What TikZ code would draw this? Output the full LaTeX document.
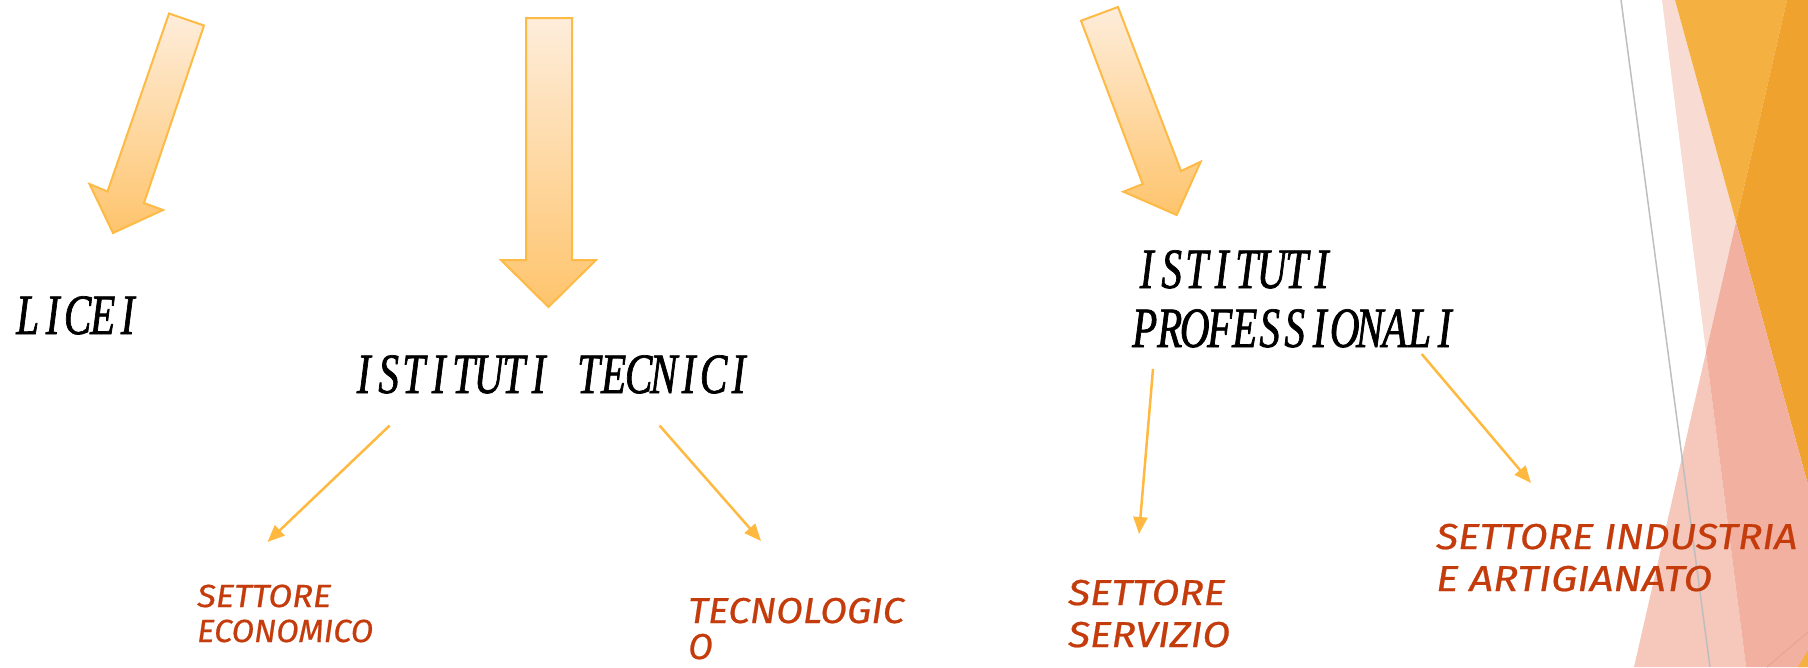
\documentclass[tikz,border=0pt]{standalone}
\usepackage{fontspec}
\usepackage{graphicx}
\usetikzlibrary{arrows.meta}
\newfontfamily\blackfont[FakeStretch=0.72,FakeBold=1.2]{Liberation Serif}
\newfontfamily\redfont[FakeBold=0.6]{Fira Sans}
\definecolor{arrline}{HTML}{FDBA45}
\definecolor{arrtop}{HTML}{FEEDDB}
\definecolor{arrbot}{HTML}{FEC46C}
\definecolor{thinarr}{HTML}{FFB940}
\definecolor{redtext}{HTML}{C43B0C}
\definecolor{palepink}{HTML}{F8DCD3}
\definecolor{lightorange}{HTML}{F4B040}
\definecolor{darkorange}{HTML}{F0A22E}
\definecolor{lightsalmon}{HTML}{F6C7BB}
\definecolor{salmon}{HTML}{F1B0A0}
\definecolor{decoline}{HTML}{BEBEBE}
\newcommand\monobox[1]{\makebox[25pt][c]{#1}}
\let\monoend\relax
\def\mono#1{\monoloop#1\monoend}
\def\monoloop#1{\ifx#1\monoend\else\monobox{#1}\expandafter\monoloop\fi}
\newcommand\fitw[2]{\resizebox{#1}{\height}{#2}}
\tikzset{
  bigarrow/.style={draw=arrline, line width=2pt, line join=miter, top color=arrtop, bottom color=arrbot},
  thinarrow/.style={draw=thinarr, line width=2.5pt, -{Triangle[length=17pt,width=14pt]}},
  blk/.style={inner sep=0pt, text=black, anchor=base west, font=\blackfont\itshape\fontsize{57}{60}\selectfont},
  redtxt/.style={inner sep=0pt, text=redtext, anchor=base west, font=\redfont\itshape\fontsize{36}{40}\selectfont},
  redsmall/.style={redtxt, font=\redfont\itshape\fontsize{32}{36}\selectfont},
}
\begin{document}
\begin{tikzpicture}[x=1pt,y=-1pt]
\useasboundingbox (0,0) rectangle (1808,667);
% right-side decoration
\fill[palepink] (1662,0) -- (1675,0) -- (1736,222) -- (1706,352) -- cycle;
\fill[lightorange] (1675,0) -- (1787,0) -- (1736,222) -- cycle;
\fill[darkorange] (1787,0) -- (1808,0) -- (1808,485) -- (1736,222) -- cycle;
\fill[lightsalmon] (1706,352) -- (1746,667) -- (1634,667) -- cycle;
\fill[salmon] (1706,352) -- (1736,222) -- (1808,485) -- (1808,667) -- (1746,667) -- cycle;
\fill[lightorange] (1798,667) -- (1808,667) -- (1808,650) -- cycle;
\draw[color=salmon!80!brown, line width=1pt] (1767,667) -- (1808,632);
\draw[decoline, line width=1.5pt] (1621,0) -- (1710,667);
% big arrows
\path[bigarrow] (169,13.5) -- (204,25.5) -- (144,203) -- (163,210) -- (113,233) -- (89.5,184) -- (107.5,191.5) -- cycle;
\path[bigarrow] (526,18) -- (572,18) -- (572,260) -- (596,260) -- (548.5,307) -- (501,260) -- (526,260) -- cycle;
\path[bigarrow] (1081,20.7) -- (1118,7) -- (1181,171) -- (1200.7,161.7) -- (1176.7,215) -- (1123.3,191.7) -- (1142.7,184) -- cycle;
% black titles
\node[blk] (licei) at (15,334) {\mono{LICEI}};
\node[blk] (tecnici) at (351,393) {\mono{ISTITUTI~TECNICI}};
\node[blk] (prof1) at (1134,288) {\mono{ISTITUTI}};
\node[blk] (prof2) at (1132,347) {\mono{PROFESSIONALI}};
% red labels
\node[redsmall] (eco1) at (197,607) {\fitw{134pt}{SETTORE}};
\node[redsmall] (eco2) at (197,642) {\fitw{176pt}{ECONOMICO}};
\node[redtxt] (tec1) at (688,623) {\fitw{216pt}{TECNOLOGIC}};
\node[redtxt] (tec2) at (688,659) {O};
\node[redtxt] (ser1) at (1068,605) {\fitw{157pt}{SETTORE}};
\node[redtxt] (ser2) at (1068,647) {\fitw{162pt}{SERVIZIO}};
\node[redtxt] (ind1) at (1436,549) {\fitw{361pt}{SETTORE INDUSTRIA}};
\node[redtxt] (ind2) at (1436,591) {\fitw{276pt}{E ARTIGIANATO}};
% connector ends
\coordinate (a1s) at (389.7,425.5); \coordinate (a1e) at (267.5,542);
\coordinate (a2s) at (659.5,425.5); \coordinate (a2e) at (761,541);
\coordinate (a3s) at (1153,369);   \coordinate (a3e) at (1139,534);
\coordinate (a4s) at (1421.7,354); \coordinate (a4e) at (1531,483);
\draw[thinarrow] (a1s) -- (a1e);
\draw[thinarrow] (a2s) -- (a2e);
\draw[thinarrow] (a3s) -- (a3e);
\draw[thinarrow] (a4s) -- (a4e);
\end{tikzpicture}
\end{document}
